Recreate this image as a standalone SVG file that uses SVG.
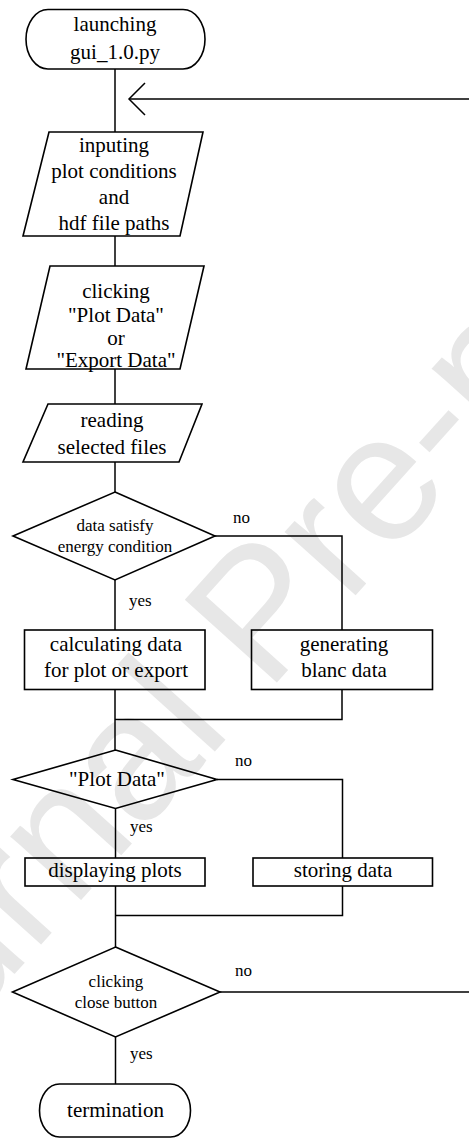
<svg xmlns="http://www.w3.org/2000/svg" width="469" height="1140" viewBox="0 0 469 1140">
  <style>
    .shape { fill: none; stroke: #000; stroke-width: 1.6; }
    .conn { fill: none; stroke: #000; stroke-width: 1.5; }
    .lbl { font-size: 21px; fill: #000; text-anchor: middle; }
    .sm { font-size: 17px; }
    .tag { font-size: 17px; fill: #000; }
    .wm { font-size: 180px; fill: #e7e7e7; }
  </style>
  <defs>
    <marker id="open-arrow" markerUnits="userSpaceOnUse" markerWidth="40" markerHeight="40" refX="0" refY="0" orient="auto" overflow="visible">
      <path d="M -16 -16 L 0 0 L -16 16" fill="none" stroke="#000" stroke-width="1.5"/>
    </marker>
  </defs>

  <rect width="469" height="1140" fill="#fff"/>

  <!-- background stamp -->
  <text class="wm" font-family="Liberation Sans, Arial, sans-serif" x="-161.5" y="1169.5" transform="rotate(-48 -161.5 1169.5)">Journal Pre-proof</text>

  <g font-family="Liberation Serif, Times New Roman, serif">
  <!-- connectors -->
  <g id="connectors">
    <path class="conn" d="M 115 69 V 132"/>
    <path class="conn" d="M 469 99 H 129" marker-end="url(#open-arrow)"/>
    <path class="conn" d="M 115 236 V 266"/>
    <path class="conn" d="M 115 369 V 404"/>
    <path class="conn" d="M 115 462 V 492"/>
    <path class="conn" d="M 215 536 H 342 V 630"/>
    <path class="conn" d="M 115 580 V 630"/>
    <path class="conn" d="M 115 689.5 V 750"/>
    <path class="conn" d="M 342 689.5 V 719.5 H 115"/>
    <path class="conn" d="M 217 779.5 H 342.5 V 858"/>
    <path class="conn" d="M 115.5 808.5 V 858"/>
    <path class="conn" d="M 115.5 886 V 947"/>
    <path class="conn" d="M 342.5 886 V 915.5 H 115.5"/>
    <path class="conn" d="M 220 992 H 469"/>
    <path class="conn" d="M 115.5 1037 V 1084"/>
    <text class="tag" x="233" y="523">no</text>
    <text class="tag" x="129" y="606">yes</text>
    <text class="tag" x="235" y="766">no</text>
    <text class="tag" x="130" y="832">yes</text>
    <text class="tag" x="235" y="976">no</text>
    <text class="tag" x="130" y="1059">yes</text>
  </g>

  <g id="start">
    <rect class="shape" x="26" y="9.5" width="179" height="59.5" rx="22" ry="29.75"/>
    <text class="lbl" x="115" y="31">launching</text>
    <text class="lbl" x="115" y="59">gui_1.0.py</text>
  </g>

  <g id="input-conditions">
    <polygon class="shape" points="49,132 203,132 180,236 23,236"/>
    <text class="lbl" x="114" y="152">inputing</text>
    <text class="lbl" x="114" y="178">plot conditions</text>
    <text class="lbl" x="114" y="204">and</text>
    <text class="lbl" x="114" y="230">hdf file paths</text>
  </g>

  <g id="click-button">
    <polygon class="shape" points="50,266 204,266 180,369 26,369"/>
    <text class="lbl" x="116" y="298">clicking</text>
    <text class="lbl" x="116" y="322">"Plot Data"</text>
    <text class="lbl" x="116" y="345">or</text>
    <text class="lbl" x="116" y="367">"Export Data"</text>
  </g>

  <g id="read-files">
    <polygon class="shape" points="48,404 202,404 179,462 23,462"/>
    <text class="lbl" x="112" y="427">reading</text>
    <text class="lbl" x="112" y="454">selected files</text>
  </g>

  <g id="energy-check">
    <polygon class="shape" points="115,492 215,536 115,580 13,536"/>
    <text class="lbl sm" x="115" y="531">data satisfy</text>
    <text class="lbl sm" x="115" y="552">energy condition</text>
  </g>

  <g id="calculate">
    <rect class="shape" x="24.5" y="630" width="180.5" height="59.5"/>
    <text class="lbl" x="116" y="651">calculating data</text>
    <text class="lbl" x="116" y="677">for plot or export</text>
  </g>

  <g id="blank-data">
    <rect class="shape" x="251.5" y="630" width="181" height="59.5"/>
    <text class="lbl" x="344" y="651">generating</text>
    <text class="lbl" x="344" y="677">blanc data</text>
  </g>

  <g id="plot-check">
    <polygon class="shape" points="115.5,750 217,779.5 115.5,808.5 13,779.5"/>
    <text class="lbl" x="117" y="786">"Plot Data"</text>
  </g>

  <g id="display">
    <rect class="shape" x="25" y="858" width="180" height="28"/>
    <text class="lbl" x="115" y="877">displaying plots</text>
  </g>

  <g id="store">
    <rect class="shape" x="253" y="858" width="179.5" height="28"/>
    <text class="lbl" x="343" y="877">storing data</text>
  </g>

  <g id="close-check">
    <polygon class="shape" points="115.5,947 220,992 115.5,1037 12.5,992"/>
    <text class="lbl sm" x="116" y="987">clicking</text>
    <text class="lbl sm" x="116" y="1008">close button</text>
  </g>

  <g id="end">
    <rect class="shape" x="39.5" y="1084" width="151" height="53" rx="20" ry="26.5"/>
    <text class="lbl" x="115.5" y="1117">termination</text>
  </g>
  </g>
</svg>
